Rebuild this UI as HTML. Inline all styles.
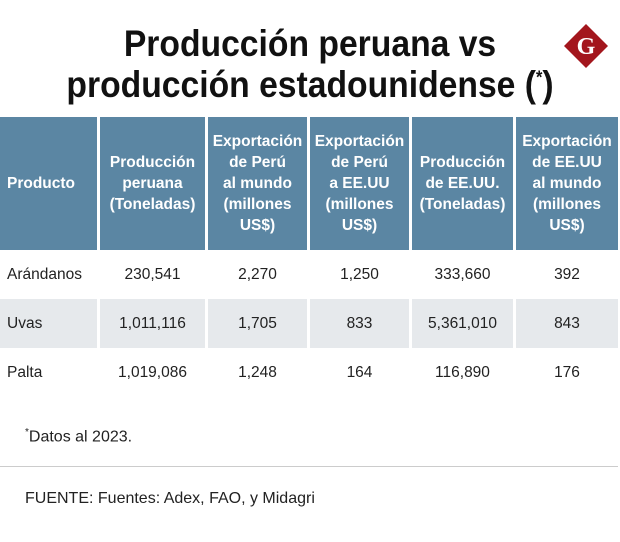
<!DOCTYPE html>
<html><head><meta charset="utf-8">
<style>
body{margin:0;background:#fff;width:620px;height:542px;overflow:hidden;font-family:"Liberation Sans",sans-serif;position:relative}
.title{position:absolute;left:0;width:620px;text-align:center;font-family:"Liberation Sans",sans-serif;font-weight:bold;font-size:37px;color:#111;transform:scaleX(0.91);transform-origin:310px 0}
.hc{position:absolute;top:117px;height:133px;background:#5b86a3;color:#fff;font-family:"Liberation Sans",sans-serif;font-weight:bold;font-size:15.5px;line-height:21px;display:flex;align-items:center;justify-content:center;text-align:center}
.cell{position:absolute;height:49px;display:flex;align-items:center;justify-content:center;font-size:15.5px;color:#222;font-family:"Liberation Sans",sans-serif}
.gray{background:#e6e9ec}
.note{position:absolute;left:25px;font-size:16px;color:#222;font-family:"Liberation Sans",sans-serif}
</style></head><body>
<div class="title" style="top:23px">Producción peruana vs</div>
<div class="title" style="top:64px">producción estadounidense (<sup style="font-size:18px">*</sup>)</div>
<svg style="position:absolute;left:563px;top:23px" width="46" height="46" viewBox="0 0 46 46">
<polygon points="23,1 45,23 23,45 1,23" fill="#a3161d"/>
<text x="23" y="31" text-anchor="middle" font-family="Liberation Serif,serif" font-weight="bold" font-size="24" fill="#fff">G</text>
</svg>
<div id="table"></div>
<div class="note" style="top:427px"><sup style="font-size:10px">*</sup>Datos al 2023.</div>
<div style="position:absolute;left:0;top:466px;width:618px;height:1px;background:#ccc"></div>
<div class="note" style="top:490px">FUENTE: Fuentes: Adex, FAO, y Midagri</div>
<script>
const headers=["Producto","Producción<br>peruana<br>(Toneladas)","Exportación<br>de Perú<br>al mundo<br>(millones<br>US$)","Exportación<br>de Perú<br>a EE.UU<br>(millones<br>US$)","Producción<br>de EE.UU.<br>(Toneladas)","Exportación<br>de EE.UU<br>al mundo<br>(millones<br>US$)"];
const products=["Arándanos","Uvas","Palta"];
const prodPeru=["230,541","1,011,116","1,019,086"];
const expPeruMundo=["2,270","1,705","1,248"];
const expPeruUS=["1,250","833","164"];
const prodUS=["333,660","5,361,010","116,890"];
const expUSMundo=["392","843","176"];
const cols=[[0,97],[100,205],[208,307],[310,409],[412,513],[516,618]];
const t=document.getElementById('table');
headers.forEach((h,i)=>{
const d=document.createElement('div');d.className='hc';


d.style.left=cols[i][0]+'px';d.style.width=(cols[i][1]-cols[i][0])+'px';
if(i===0){d.style.justifyContent='flex-start';d.style.paddingLeft='7px';d.style.width=(cols[i][1]-cols[i][0]-7)+'px';}
d.innerHTML=h;t.appendChild(d);});
const series=[products,prodPeru,expPeruMundo,expPeruUS,prodUS,expUSMundo];
products.forEach((p,r)=>{
series.forEach((s,c)=>{
const d=document.createElement('div');d.className='cell'+(r===1?' gray':'');


d.style.top=(250+r*49)+'px';d.style.left=cols[c][0]+'px';d.style.width=(cols[c][1]-cols[c][0])+'px';
if(c===0){d.style.justifyContent='flex-start';d.style.paddingLeft='7px';d.style.width=(cols[c][1]-cols[c][0]-7)+'px';}
d.textContent=s[r];t.appendChild(d);});});
</script>
</body></html>
